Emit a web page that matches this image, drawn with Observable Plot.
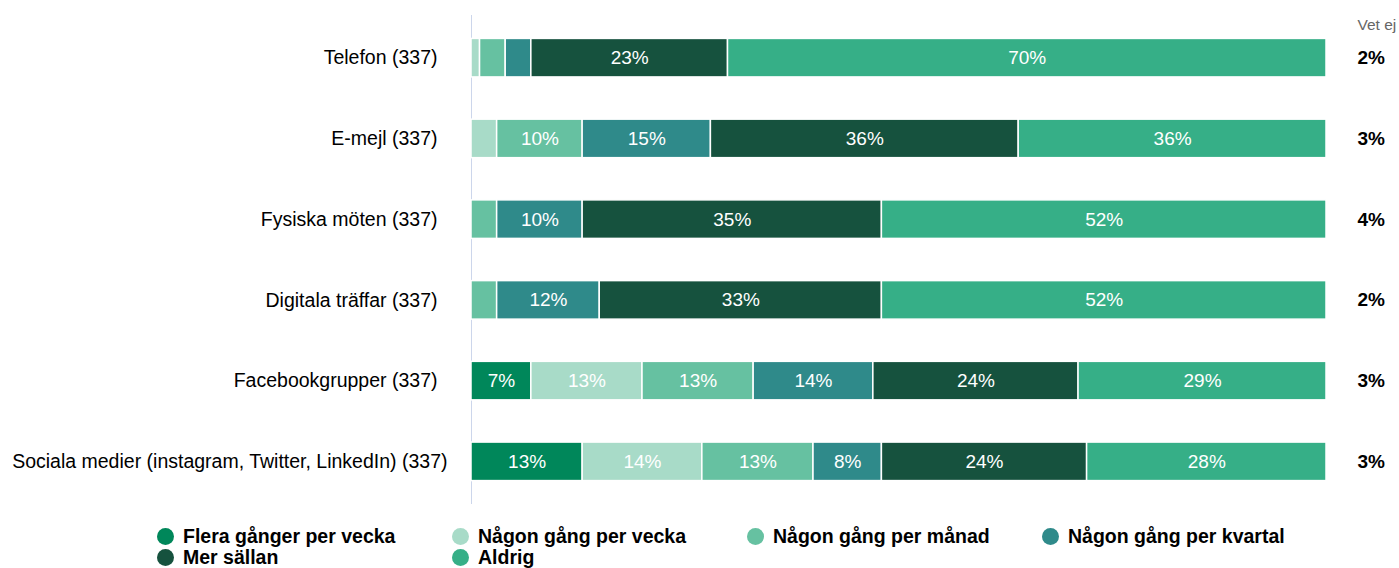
<!DOCTYPE html>
<html>
<head>
<meta charset="utf-8">
<script src="https://cdn.jsdelivr.net/npm/d3@7"></script>
<script src="https://cdn.jsdelivr.net/npm/@observablehq/plot@0.6"></script>
<style>
  body { margin: 0; background: #fff; font-family: "Liberation Sans", Arial, sans-serif; }
  #chart svg { display: block; }
  #legend { display: grid; grid-template-columns: repeat(4, 295px); padding-left: 157px; margin-top: 11px; }
  .item { display: flex; align-items: center; font-weight: bold; font-size: 19.5px; line-height: 21px; height: 21px; color: #000; white-space: nowrap; }
  .dot { width: 17px; height: 17px; border-radius: 50%; margin-right: 9px; flex: none; }
</style>
</head>
<body>
<div id="chart"></div>
<div id="legend"></div>
<script>
const categories = [
  "Telefon (337)",
  "E-mejl (337)",
  "Fysiska möten (337)",
  "Digitala träffar (337)",
  "Facebookgrupper (337)",
  "Sociala medier (instagram, Twitter, LinkedIn) (337)"
];
const seriesNames = [
  "Flera gånger per vecka",
  "Någon gång per vecka",
  "Någon gång per månad",
  "Någon gång per kvartal",
  "Mer sällan",
  "Aldrig"
];
const colors = ["#00875a", "#a8dbc8", "#66c1a1", "#2f8a8a", "#16523e", "#36af87"];
const fleraPerVecka   = [0, 0, 0, 0, 7, 13];
const nagonPerVecka   = [1, 3, 0, 0, 13, 14];
const nagonPerManad   = [3, 10, 3, 3, 13, 13];
const nagonPerKvartal = [3, 15, 10, 12, 14, 8];
const merSallan       = [23, 36, 35, 33, 24, 24];
const aldrig          = [70, 36, 52, 52, 29, 28];
const vetEj           = [2, 3, 4, 2, 3, 3];

const seriesValues = [fleraPerVecka, nagonPerVecka, nagonPerManad, nagonPerKvartal, merSallan, aldrig];
const data = [];
categories.forEach((c, i) => {
  seriesNames.forEach((s, j) => {
    const v = seriesValues[j][i];
    if (v > 0) data.push({cat: c, series: s, value: v});
  });
});
const vetData = categories.map((c, i) => ({cat: c, value: vetEj[i]}));

const font = "'Liberation Sans', Arial, sans-serif";
const stackOpts = {x: "value", y: "cat", z: "series", order: seriesNames, offset: "normalize"};

const chart = Plot.plot({
  width: 1399,
  height: 515,
  marginLeft: 471,
  marginRight: 73,
  marginTop: 15,
  marginBottom: 11,
  style: {fontFamily: font, fontSize: "19.5px", color: "#000", background: "#fff"},
  x: {axis: null},
  y: {domain: categories, paddingInner: 0.523, paddingOuter: 0.29, round: false, label: null, axis: null},
  color: {domain: seriesNames, range: colors},
  marks: [
    Plot.ruleX([0], {stroke: "#ccd6eb", strokeWidth: 1}),
    Plot.barX(data, Plot.stackX({...stackOpts, fill: "series", stroke: "#fff", strokeWidth: 1.5})),
    Plot.text(data, Plot.stackX({...stackOpts, text: d => d.value >= 5 ? d.value + "%" : "", fill: "#fff", fontSize: 19})),
    Plot.axisY(categories.slice(0, 5), {tickSize: 0, tickPadding: 34, fontSize: 19.5, fill: "#000"}),
    Plot.axisY(categories.slice(5), {tickSize: 0, tickPadding: 24, fontSize: 19.5, fill: "#000"}),
    Plot.text(vetData, {y: "cat", text: d => d.value + "%", frameAnchor: "right", dx: 31, textAnchor: "start", fontWeight: "bold", fontSize: 19, fill: "#000"}),
    Plot.text(["Vet ej"], {frameAnchor: "top-right", dx: 31, dy: 3, textAnchor: "start", lineAnchor: "top", fontSize: 15.5, fill: "#666"})
  ]
});
document.getElementById("chart").appendChild(chart);

const legend = document.getElementById("legend");
seriesNames.forEach((s, j) => {
  const item = document.createElement("div");
  item.className = "item";
  const dot = document.createElement("span");
  dot.className = "dot";
  dot.style.background = colors[j];
  item.appendChild(dot);
  item.appendChild(document.createTextNode(s));
  legend.appendChild(item);
});
</script>
</body>
</html>
